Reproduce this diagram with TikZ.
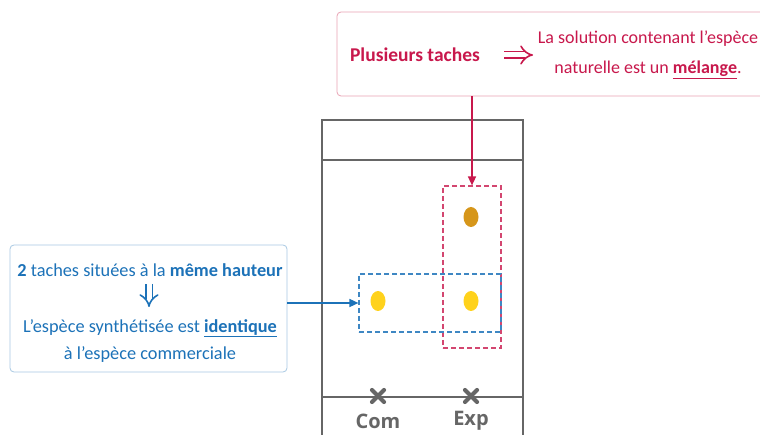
\documentclass[tikz,border=0pt]{standalone}
\usepackage{fontspec}
\setmainfont{Carlito}
\newfontfamily\labfont{Open Sans}
\usetikzlibrary{arrows.meta,shapes.geometric}
\definecolor{rtxt}{HTML}{C8184C}
\definecolor{rbord}{HTML}{E9A3B5}
\definecolor{btxt}{HTML}{1C72B8}
\definecolor{bbord}{HTML}{A9C9E3}
\definecolor{plate}{HTML}{666666}
\definecolor{spotY}{HTML}{FFD21C}
\definecolor{spotO}{HTML}{D6961A}
\tikzset{
  infobox/.style={draw, rounded corners=4pt, line width=0.8pt, inner sep=0pt},
  dashrect/.style={draw, dashed, dash pattern=on 5pt off 3pt, line width=1.2pt, inner sep=0pt},
  spot/.style={ellipse, inner sep=0pt, minimum width=15pt, minimum height=20pt},
  platel/.style={draw=plate, line width=2.2pt},
  crossl/.style={draw=plate, line width=4.2pt, line cap=round},
  lab/.style={font=\labfont\bfseries\fontsize{20}{22}\selectfont, text=plate, inner sep=0pt},
  rt/.style={text=rtxt, font=\fontsize{18}{30}\selectfont, align=center, inner sep=0pt},
  bt/.style={text=btxt, font=\fontsize{18.3}{20}\selectfont, align=center, inner sep=0pt},
  dblarrow/.style={double distance=5pt, line width=1.6pt, -{Implies[length=5pt]}},
}
\begin{document}
\begin{tikzpicture}[x=1pt,y=-1pt]
\useasboundingbox (0,0) rectangle (760,435);
\clip (0,0) rectangle (760,435);
\fill[white] (0,0) rectangle (760,435);
% plate
\draw[platel] (322,470) -- (322,120) -- (523,120) -- (523,470);
\draw[platel] (322,160) -- (523,160);
\draw[platel] (322,397) -- (523,397);
% spots
\node[spot, fill=spotO] (o1) at (471,217) {};
\node[spot, fill=spotY] (y1) at (378,301) {};
\node[spot, fill=spotY] (y2) at (471,301) {};
% crosses
\coordinate (cc) at (378,396);
\coordinate (ce) at (471,396);
\draw[crossl] ([shift={(-6,-6)}]cc) -- ([shift={(6,6)}]cc) ([shift={(-6,6)}]cc) -- ([shift={(6,-6)}]cc);
\draw[crossl] ([shift={(-6,-6)}]ce) -- ([shift={(6,6)}]ce) ([shift={(-6,6)}]ce) -- ([shift={(6,-6)}]ce);
\node[lab] (com) at (378,421) {Com};
\node[lab] (exp) at (471,421) {Exp};
% dashed rectangles
\node[dashrect, draw=rtxt!80, minimum width=58pt, minimum height=162pt] (rrect) at (472,267) {};
\node[dashrect, draw=btxt!85, minimum width=142pt, minimum height=58pt] (brect) at (430,303) {};
% red info box
\node[infobox, draw=rbord, minimum width=433pt, minimum height=84pt] (rbox) at (553.5,54) {};
\node[rt, font=\bfseries\fontsize{19.5}{21}\selectfont] (plus) at (415,55) {Plusieurs taches};
\coordinate (i1) at (504,55);
\coordinate (i2) at (533,55);
\draw[dblarrow, draw=rtxt] (i1) -- (i2);
\node[rt] (sol) at (648,55) {La solution contenant l’espèce\\naturelle est un \underline{\textbf{mélange}}.};
% blue info box
\node[infobox, draw=bbord, minimum width=277pt, minimum height=127pt] (bbox) at (148.5,308.5) {};
\node[bt] (l1) at (150,270) {\textbf{2} taches situées à la \textbf{même hauteur}};
\coordinate (d1) at (149,284);
\coordinate (d2) at (149,307);
\draw[dblarrow, draw=btxt] (d1) -- (d2);
\node[bt] (l2) at (150,328) {L’espèce synthétisée est \underline{\textbf{identique}}};
\node[bt] (l3) at (150,355) {à l’espèce commerciale};
% connectors
\draw[rtxt, line width=1.5pt, -{Triangle[length=9pt,width=8pt]}] (rrect.north |- rbox.south) -- (rrect.north);
\draw[btxt, line width=1.5pt, -{Triangle[length=9pt,width=8pt]}] (bbox.east |- brect.west) -- (brect.west);
\end{tikzpicture}
\end{document}
